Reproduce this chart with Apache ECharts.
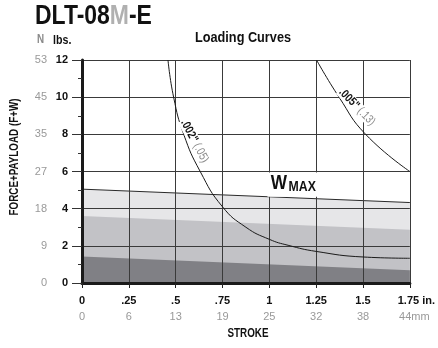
<!DOCTYPE html>
<html>
<head>
<meta charset="utf-8">
<script src="https://cdn.jsdelivr.net/npm/echarts@6/dist/echarts.min.js"></script>
<style>
  html, body { margin: 0; padding: 0; background: #fff; }
  #chart { width: 438px; height: 348px; }
</style>
</head>
<body>
<div id="chart"></div>
<script>
const FONT = '"Liberation Sans", Arial, sans-serif';
const NARROW = 0.82; // horizontal squeeze for condensed headings

// Stroke tick labels (in.) and their metric equivalents (mm)
const strokeInches = ['0', '.25', '.5', '.75', '1', '1.25', '1.5', '1.75'];
const strokeMm = ['0', '6', '13', '19', '25', '32', '38', '44'];
// Load tick labels (lbs.) and their newton equivalents
const loadLbs = ['0', '2', '4', '6', '8', '10', '12'];
const loadN = ['0', '9', '18', '27', '35', '45', '53'];

// Shaded bands: straight edges across the full stroke
const bandStroke = [0, 1.75];
const wmaxLoad = [5.05, 4.33];
const midLoad = [3.6, 2.87];
const lowLoad = [1.43, 0.68];

// Deflection curves
const stroke002 = [0.459, 0.489, 0.543, 0.631, 0.75, 0.875, 1.0, 1.1, 1.25, 1.5, 1.75];
const load002 = [12, 10, 8, 6, 4.1, 3.0, 2.35, 2.03, 1.7, 1.4, 1.33];
const stroke005 = [1.252, 1.372, 1.514, 1.75];
const load005 = [12, 10, 8, 6];

const zip = (xs, ys) => xs.map((x, i) => [x, ys[i]]);
const tickIndex = (v, step) => Math.round(v / step);

const chart = echarts.init(document.getElementById('chart'), null, { renderer: 'canvas' });

const inchFormatter = v => {
  const i = tickIndex(v, 0.25);
  return i === strokeInches.length - 1 ? '{last|' + strokeInches[i] + ' in.}' : strokeInches[i];
};
const mmFormatter = v => {
  const i = tickIndex(v, 0.25);
  return i === strokeMm.length - 1 ? '{last|' + strokeMm[i] + 'mm}' : strokeMm[i];
};

const bandSeries = (ys, fill, lineColor) => ({
  type: 'line',
  data: zip(bandStroke, ys),
  symbol: 'none',
  silent: true,
  z: 2,
  lineStyle: { color: lineColor || fill, width: lineColor ? 1 : 0 },
  areaStyle: { color: fill, opacity: 1 }
});

const curveSeries = (xs, ys) => ({
  type: 'line',
  data: zip(xs, ys),
  symbol: 'none',
  smooth: 0.5,
  silent: true,
  z: 10,
  lineStyle: { color: '#1a1a1a', width: 1 }
});

chart.setOption({
  animation: false,
  backgroundColor: '#fff',
  grid: { left: 82, right: 27, top: 60, bottom: 65, show: false },
  xAxis: [
    {
      type: 'value', min: 0, max: 1.75, interval: 0.25, position: 'bottom', z: 5,
      axisLine: { show: true, onZero: false, lineStyle: { color: '#1a1a1a', width: 3 } },
      axisTick: { show: true, length: 5, lineStyle: { color: '#222', width: 1 } },
      splitLine: { show: true, lineStyle: { color: '#3a3a3a', width: 1 } },
      axisLabel: {
        formatter: inchFormatter, margin: 12,
        fontFamily: FONT, fontWeight: 'bold', fontSize: 11, color: '#111',
        rich: { last: { padding: [0, 0, 0, 13], fontFamily: FONT, fontWeight: 'bold', fontSize: 11, color: '#111' } }
      }
    },
    {
      type: 'value', min: 0, max: 1.75, interval: 0.25, position: 'bottom',
      axisLine: { show: false, onZero: false }, axisTick: { show: false }, splitLine: { show: false },
      axisLabel: {
        formatter: mmFormatter, margin: 28,
        fontFamily: FONT, fontSize: 11, color: '#999',
        rich: { last: { padding: [0, 0, 0, 9], fontFamily: FONT, fontSize: 11, color: '#999' } }
      }
    }
  ],
  yAxis: [
    {
      type: 'value', min: 0, max: 12, interval: 2, position: 'left', z: 5,
      axisLine: { show: true, onZero: false, lineStyle: { color: '#1a1a1a', width: 3 } },
      axisTick: { show: true, length: 10, lineStyle: { color: '#333', width: 1 } },
      minorTick: { show: true, splitNumber: 2, length: 4, lineStyle: { color: '#333', width: 1 } },
      splitLine: { show: true, lineStyle: { color: '#3a3a3a', width: 1 } },
      axisLabel: {
        formatter: v => loadLbs[tickIndex(v, 2)], margin: 14,
        fontFamily: FONT, fontWeight: 'bold', fontSize: 11, color: '#111'
      }
    },
    {
      type: 'value', min: 0, max: 12, interval: 2, position: 'left',
      axisLine: { show: false, onZero: false }, axisTick: { show: false }, splitLine: { show: false },
      axisLabel: {
        formatter: v => loadN[tickIndex(v, 2)], margin: 35,
        fontFamily: FONT, fontSize: 11, color: '#999'
      }
    }
  ],
  series: [
    bandSeries(wmaxLoad, '#e6e6e8', '#2a2a2a'),
    bandSeries(midLoad, '#c2c2c6'),
    bandSeries(lowLoad, '#808085'),
    curveSeries(stroke002, load002),
    curveSeries(stroke005, load005)
  ]
});

// Condensed heading text
const heading = (x, y, text, size, opts) => Object.assign({
  type: 'text', x: x, y: y, scaleX: NARROW, z: 30,
  style: Object.assign({
    text: text, fontFamily: FONT, fontWeight: 'bold', fontSize: size, fill: '#111',
    align: 'center', verticalAlign: 'middle'
  }, (opts && opts.style) || {})
}, (opts && opts.el) || {});

// Annotations anchored to data coordinates
const at = (x, y) => chart.convertToPixel({ xAxisIndex: 0, yAxisIndex: 0 }, [x, y]);
const curveLabel = (pos, deg, code, metric) => ({
  type: 'text', x: pos[0], y: pos[1], rotation: deg * Math.PI / 180, scaleX: NARROW, z: 30,
  style: {
    text: '{a|' + code + '} {b|' + metric + '}',
    align: 'center', verticalAlign: 'middle',
    backgroundColor: '#fff', padding: [0, 1],
    rich: {
      a: { fontFamily: FONT, fontWeight: 'bold', fontSize: 12, fill: '#111' },
      b: { fontFamily: FONT, fontSize: 12, fill: '#8a8a8a' }
    }
  }
});

const p002 = at(0.601, 7.63);
const p005 = at(1.468, 9.47);
const pWmax = at(1.128, 5.33);
// white patch behind the W MAX caption, between the 6 lbs. line and the W max edge
const maskTL = at(0.99, 5.94);
const maskBR = at(1.27, 4.64);

chart.setOption({
  graphic: [
    {
      type: 'text', x: 35, y: 16, scaleX: NARROW, z: 30,
      style: {
        text: '{a|DLT-08}{b|M}{a|-E}', align: 'left', verticalAlign: 'middle',
        rich: {
          a: { fontFamily: FONT, fontWeight: 'bold', fontSize: 28, fill: '#111' },
          b: { fontFamily: FONT, fontWeight: 'bold', fontSize: 28, fill: '#b0b0b0' }
        }
      }
    },
    heading(37, 40, 'N', 12, { style: { fill: '#8a8a8a', align: 'left' } }),
    heading(53, 40, 'lbs.', 13, { style: { align: 'left' } }),
    heading(243, 38, 'Loading Curves', 15.5),
    heading(15, 157, 'FORCE+PAYLOAD (F+W)', 12, { el: { rotation: Math.PI / 2 } }),
    heading(248, 334, 'STROKE', 12),
    curveLabel(p002, -62, '.002"', '(.05)'),
    curveLabel(p005, -46, '.005"', '(.13)'),
    {
      type: 'rect', z: 29, silent: true,
      shape: { x: maskTL[0], y: maskTL[1], width: maskBR[0] - maskTL[0], height: maskBR[1] - maskTL[1] },
      style: { fill: '#fff' }
    },
    {
      type: 'text', x: pWmax[0], y: pWmax[1], scaleX: NARROW, z: 30,
      style: {
        text: '{w|W}{m|MAX}', align: 'center', verticalAlign: 'middle',
        rich: {
          w: { fontFamily: FONT, fontWeight: 'bold', fontSize: 21, lineHeight: 20, fill: '#111', verticalAlign: 'bottom' },
          m: { fontFamily: FONT, fontWeight: 'bold', fontSize: 15, lineHeight: 20, fill: '#111', verticalAlign: 'bottom', padding: [0, 0, 0, 2] }
        }
      }
    }
  ]
});
</script>
</body>
</html>
